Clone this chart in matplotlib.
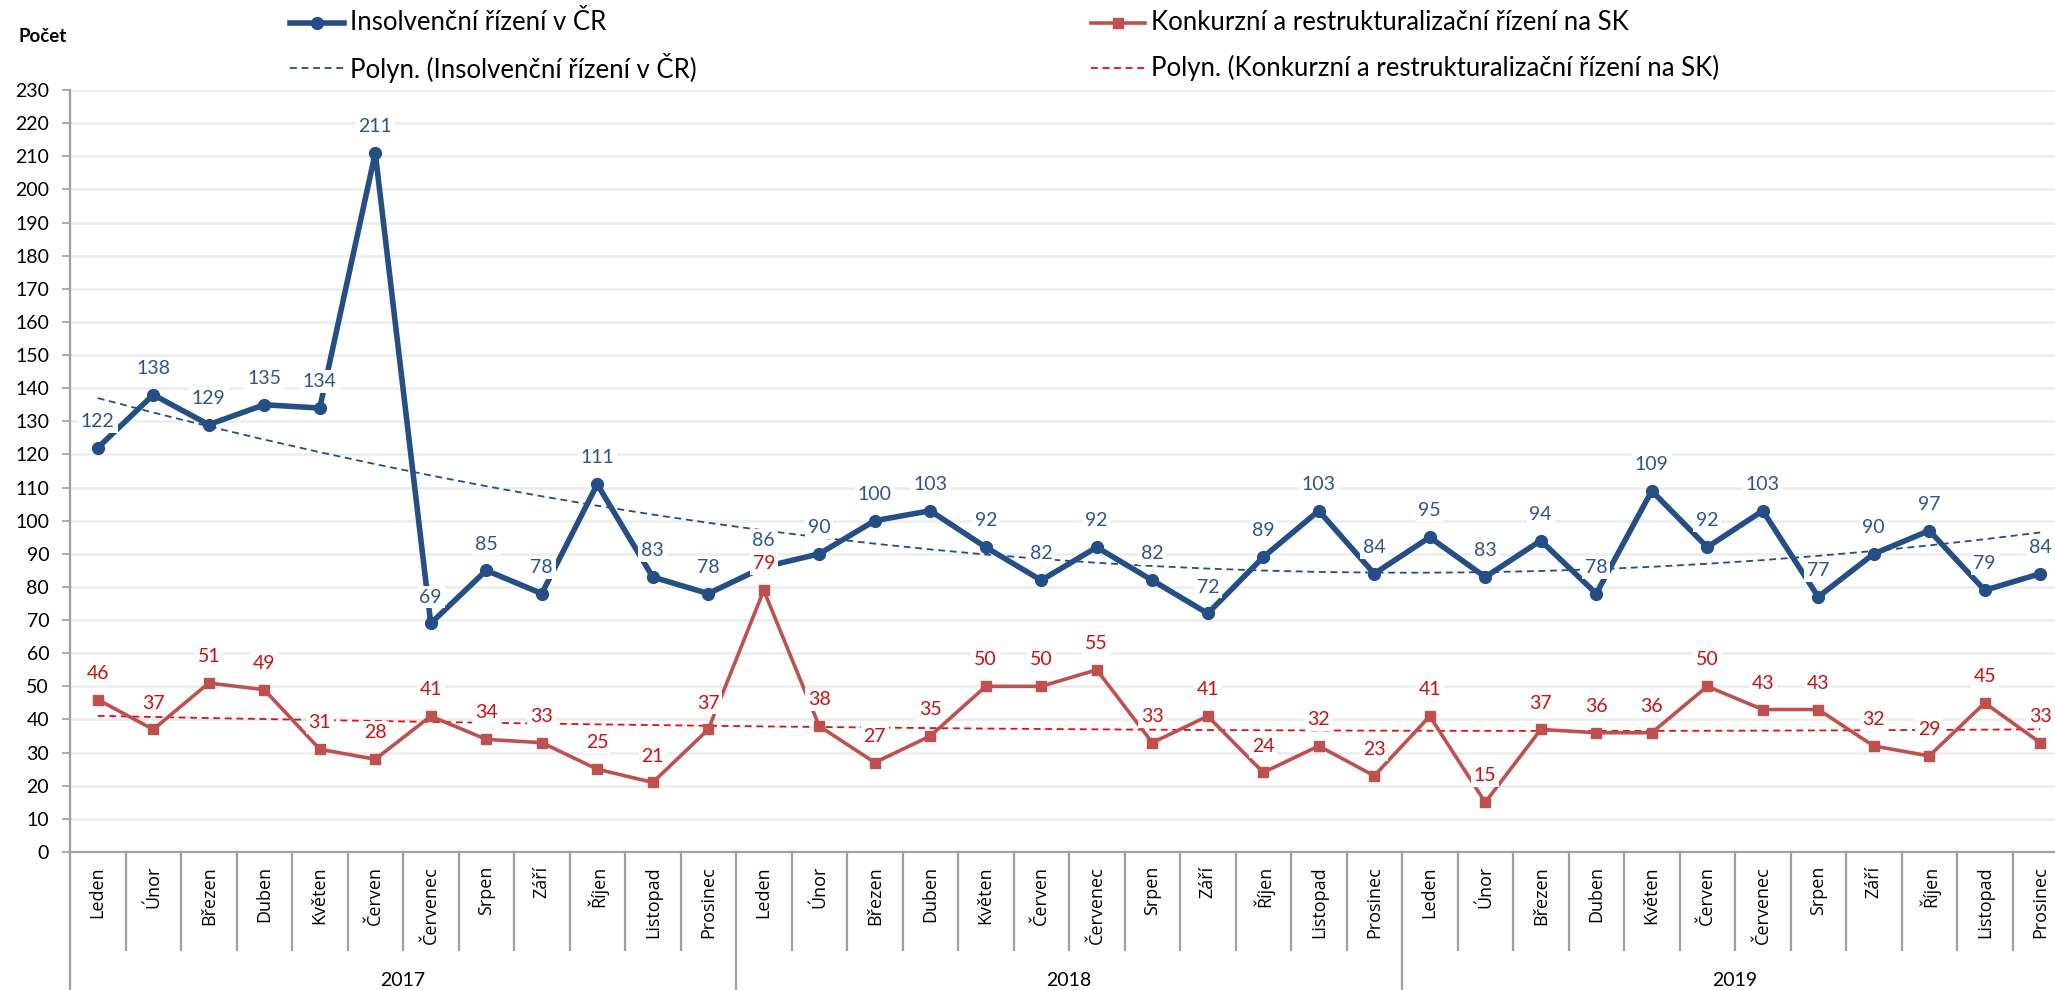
import numpy as np
import matplotlib.pyplot as plt
from matplotlib.lines import Line2D

plt.rcParams['font.family'] = ['Lato', 'DejaVu Sans']

months = ['Leden', 'Únor', 'Březen', 'Duben', 'Květen', 'Červen',
          'Červenec', 'Srpen', 'Září', 'Říjen', 'Listopad', 'Prosinec']
years = ['2017', '2018', '2019']

insolvence_cr = [122, 138, 129, 135, 134, 211, 69, 85, 78, 111, 83, 78,
                 86, 90, 100, 103, 92, 82, 92, 82, 72, 89, 103, 84,
                 95, 83, 94, 78, 109, 92, 103, 77, 90, 97, 79, 84]
konkurz_sk = [46, 37, 51, 49, 31, 28, 41, 34, 33, 25, 21, 37,
              79, 38, 27, 35, 50, 50, 55, 33, 41, 24, 32, 23,
              41, 15, 37, 36, 36, 50, 43, 43, 32, 29, 45, 33]

name_cr = 'Insolvenční řízení v ČR'
name_sk = 'Konkurzní a restrukturalizační řízení na SK'

blue = '#234E86'
blue_lab = '#2B5591'
red = '#C0504D'
red_lab = '#D01010'
red_trend = '#E01010'

W, H = 2055, 990
fig = plt.figure(figsize=(W / 100, H / 100), dpi=100)
# axes spans pixels x 70..2068 (cut at right edge), y 90..852
ax = fig.add_axes([70 / W, 1 - 852 / H, 1998 / W, 762 / H])

x = np.arange(len(insolvence_cr))

# polynomial trend (order 2), as Excel "Polyn."
tr_cr = np.polyval(np.polyfit(x, insolvence_cr, 2), x)
tr_sk = np.polyval(np.polyfit(x, konkurz_sk, 2), x)

dash = (0, (3.8, 2.6))
ax.plot(x, tr_cr, color=blue, lw=1.3, ls=dash, zorder=3)
ax.plot(x, tr_sk, color=red_trend, lw=1.3, ls=dash, zorder=3)
ax.plot(x, insolvence_cr, color=blue, lw=4, marker='o', ms=8.5, zorder=4)
ax.plot(x, konkurz_sk, color=red, lw=2.6, marker='s', ms=6.5, zorder=4)

for xi, v in zip(x, insolvence_cr):
    ax.annotate(str(v), (xi, v), xytext=(0, 19), textcoords='offset points',
                ha='center', va='center', fontsize=14, color=blue_lab, zorder=6,
                bbox=dict(boxstyle='square,pad=0.15', fc='white', ec='none'))
for xi, v in zip(x, konkurz_sk):
    ax.annotate(str(v), (xi, v), xytext=(0, 19), textcoords='offset points',
                ha='center', va='center', fontsize=14, color=red_lab, zorder=6,
                bbox=dict(boxstyle='square,pad=0.15', fc='white', ec='none'))

ax.set_xlim(-0.5, len(x) - 0.5)
ax.set_ylim(0, 230)
ax.set_yticks(np.arange(0, 231, 10))
ax.yaxis.grid(True, color='#ECECEC', lw=1.8)
ax.set_axisbelow(True)
ax.tick_params(axis='y', labelsize=14, length=6, width=1.2, color='#A0A0A0', pad=9)
ax.set_xticks([])
for s in ['top', 'right']:
    ax.spines[s].set_visible(False)
ax.spines['left'].set_visible(False)
ax.spines['bottom'].set_color('#A0A0A0')
ax.spines['bottom'].set_linewidth(1.6)

# category axis: months, dividers, years
tr = ax.get_xaxis_transform()
ax.plot([-0.5, -0.5], [-0.181, 1.0], transform=tr, color='#A0A0A0', lw=1.6, clip_on=False)
for i in range(len(x)):
    ax.text(i, -0.0185, months[i % 12], transform=tr, rotation=90, ha='center', va='top',
            fontsize=13, family=['Open Sans', 'DejaVu Sans'], clip_on=False)
    if i > 0:
        yb = -0.181 if i % 12 == 0 else -0.1286
        ax.plot([i - 0.5, i - 0.5], [0, yb], transform=tr, color='#A0A0A0', lw=1.6, clip_on=False)
ax.plot([35.5, 35.5], [0, -0.181], transform=tr, color='#A0A0A0', lw=1.6, clip_on=False)
for k, yr in enumerate(years):
    ax.text(12 * k + 5.5, -0.168, yr, transform=tr, ha='center', va='center',
            fontsize=14, clip_on=False)

fig.text(19 / W, 1 - 36 / H, 'Počet', fontsize=13.5, fontweight='bold', va='center')

# legend
def leg_item(x0, y0, color, lw, ls, marker, ms, label):
    fy = 1 - y0 / H
    fig.add_artist(Line2D([x0 / W, (x0 + 54) / W], [fy, fy], color=color, lw=lw, ls=ls))
    if marker:
        fig.add_artist(Line2D([(x0 + 27) / W], [fy], color=color, marker=marker, ms=ms))
    fig.text((x0 + 60) / W, fy, label, fontsize=18.5, va='center')

leg_item(290, 23, blue, 4, '-', 'o', 8.5, name_cr)
leg_item(290, 68, blue, 1.3, dash, None, 0, 'Polyn. (' + name_cr + ')')
leg_item(1091, 23, red, 2.6, '-', 's', 6.5, name_sk)
leg_item(1091, 68, red_trend, 1.3, dash, None, 0, 'Polyn. (' + name_sk + ')')

fig.savefig('out.png', dpi=100)
